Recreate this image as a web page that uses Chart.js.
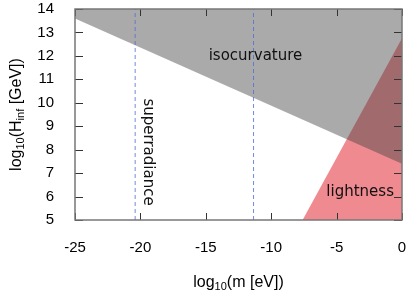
<!DOCTYPE html>
<html>
<head>
<meta charset="utf-8">
<script src="https://cdn.jsdelivr.net/npm/chart.js@4.4.0/dist/chart.umd.min.js"></script>
<style>
    html, body { margin: 0; padding: 0; background: #fff; }
    #contenedor { width: 410px; height: 300px; }
</style>
</head>
<body>
<div id="contenedor"><canvas id="grafica"></canvas></div>
<script>
    // bordes de las regiones excluidas (log10 m [eV], log10 H_inf [GeV])
    var isoX = [-25, 0];
    var isoY = [13.6, 7.4];
    var luzX = [-7.6, 0];
    var luzY = [5, 12.75];
    var superX = [-20.4, -11.35];
    var rangoX = [-25, 0];
    var rangoY = [5, 14];
    var xTicks = [-25, -20, -15, -10, -5, 0];
    var yTicks = [5, 6, 7, 8, 9, 10, 11, 12, 13, 14];
    var etiquetas = [
        { texto: 'isocurvature', x: -11.2, y: 12.0, giro: 0 },
        { texto: 'superradiance', x: -19.45, y: 7.9, giro: 90 },
        { texto: 'lightness', x: -3.2, y: 6.2, giro: 0 }
    ];

    function puntos(xs, ys) {
        return xs.map(function(x, i) { return { x: x, y: ys[i] }; });
    }

    // texto con subindices, centrado en (cx, cy)
    function textoRico(ctx, partes, cx, cy) {
        var total = 0;
        partes.forEach(function(p) {
            ctx.font = (p.sub ? '11px' : '16px') + ' "Liberation Sans", Arial, sans-serif';
            p.w = ctx.measureText(p.t).width;
            total += p.w;
        });
        var x = cx - total / 2;
        ctx.textBaseline = 'middle';
        ctx.textAlign = 'left';
        partes.forEach(function(p) {
            ctx.font = (p.sub ? '11px' : '16px') + ' "Liberation Sans", Arial, sans-serif';
            ctx.fillText(p.t, x, cy + (p.sub ? 4 : 0));
            x += p.w;
        });
    }

    var marcoPlugin = {
        id: 'marco',
        afterDatasetsDraw: function(chart) {
            var ctx = chart.ctx;
            var a = chart.chartArea;
            var sx = chart.scales.x;
            var sy = chart.scales.y;
            ctx.save();

            // marcas hacia dentro en los cuatro lados
            ctx.strokeStyle = '#333';
            ctx.lineWidth = 1;
            ctx.beginPath();
            xTicks.forEach(function(v) {
                var px = Math.round(sx.getPixelForValue(v)) + 0.5;
                ctx.moveTo(px, a.bottom); ctx.lineTo(px, a.bottom - 7);
                ctx.moveTo(px, a.top); ctx.lineTo(px, a.top + 7);
            });
            yTicks.forEach(function(v) {
                var py = Math.round(sy.getPixelForValue(v)) + 0.5;
                ctx.moveTo(a.left, py); ctx.lineTo(a.left + 8, py);
                ctx.moveTo(a.right, py); ctx.lineTo(a.right - 8, py);
            });
            ctx.stroke();

            ctx.strokeStyle = '#777';
            ctx.lineWidth = 1.5;
            ctx.strokeRect(a.left, a.top, a.right - a.left, a.bottom - a.top);

            // nombres de las regiones
            ctx.fillStyle = '#111';
            ctx.font = '15px "DejaVu Sans", sans-serif';
            ctx.textAlign = 'center';
            ctx.textBaseline = 'middle';
            etiquetas.forEach(function(e) {
                ctx.save();
                ctx.translate(sx.getPixelForValue(e.x), sy.getPixelForValue(e.y));
                ctx.rotate(e.giro * Math.PI / 180);
                ctx.fillText(e.texto, 0, 0);
                ctx.restore();
            });
            ctx.restore();
        },
        afterDraw: function(chart) {
            var ctx = chart.ctx;
            var a = chart.chartArea;
            ctx.save();
            ctx.fillStyle = '#000';
            textoRico(ctx, [
                { t: 'log' }, { t: '10', sub: true }, { t: '(m [eV])' }
            ], (a.left + a.right) / 2, 283);

            ctx.translate(17, (a.top + a.bottom) / 2);
            ctx.rotate(-Math.PI / 2);
            textoRico(ctx, [
                { t: 'log' }, { t: '10', sub: true }, { t: '(H' },
                { t: 'inf', sub: true }, { t: ' [GeV])' }
            ], 0, 0);
            ctx.restore();
        }
    };

    var datasets = superX.map(function(x) {
        return {
            data: puntos([x, x], rangoY),
            borderColor: 'rgba(80, 110, 215, 0.8)',
            borderWidth: 1,
            borderDash: [4, 3],
            pointRadius: 0,
            fill: false
        };
    });
    datasets.push({
        data: puntos(isoX, isoY),
        borderWidth: 0,
        pointRadius: 0,
        fill: 'end',
        backgroundColor: 'rgba(66, 66, 66, 0.45)'
    });
    datasets.push({
        data: puntos(luzX, luzY),
        borderWidth: 0,
        pointRadius: 0,
        fill: 'start',
        backgroundColor: '#ee8a90'
    });

    var fuenteTicks = { family: '"Liberation Sans", Arial, sans-serif', size: 15 };

    var ctx = document.getElementById('grafica').getContext('2d');
    var myChart = new Chart(ctx, {
        type: 'line',
        data: { datasets: datasets },
        plugins: [marcoPlugin],
        options: {
            responsive: true,
            maintainAspectRatio: false,
            animation: false,
            layout: { padding: { top: 9, right: 8, left: 0, bottom: 0 } },
            plugins: {
                legend: { display: false },
                tooltip: { enabled: false }
            },
            scales: {
                x: {
                    type: 'linear',
                    min: rangoX[0],
                    max: rangoX[1],
                    grid: { display: false },
                    border: { display: false },
                    ticks: {
                        stepSize: 5,
                        color: '#000',
                        font: fuenteTicks,
                        padding: 11,
                        maxRotation: 0,
                        callback: function(v) { return String(v); }
                    },
                    afterFit: function(s) {
                        s.height = 80;
                        s.paddingLeft = 0;
                        s.paddingRight = 0;
                    }
                },
                y: {
                    type: 'linear',
                    min: rangoY[0],
                    max: rangoY[1],
                    grid: { display: false },
                    border: { display: false },
                    ticks: {
                        stepSize: 1,
                        color: '#000',
                        font: fuenteTicks,
                        padding: 13,
                        callback: function(v) { return String(v); }
                    },
                    afterFit: function(s) {
                        s.width = 75;
                        s.paddingTop = 0;
                        s.paddingBottom = 0;
                    }
                }
            }
        }
    });
</script>
</body>
</html>
